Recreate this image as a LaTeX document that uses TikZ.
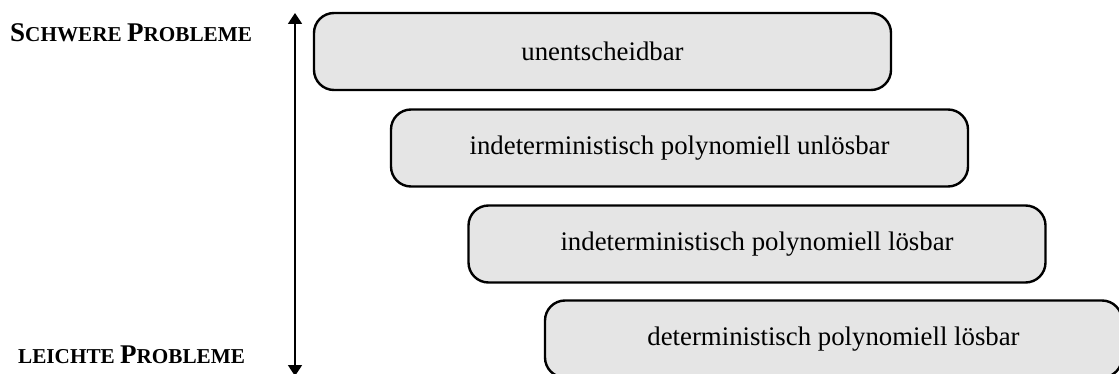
\documentclass[tikz,border=0pt]{standalone}
\usepackage{fontspec}
\setmainfont{Liberation Serif}
\usetikzlibrary{arrows.meta}

% faked small capitals: capital letters full size, the rest as smaller capitals
\newcommand{\capfull}[1]{\fontsize{27}{30}\selectfont #1}
\newcommand{\capsmall}[1]{\fontsize{21.2}{30}\selectfont #1}

\begin{document}
\begin{tikzpicture}[x=1pt,y=-1pt,
  levelbox/.style={draw=black, line width=2.4pt, fill=black!10, rounded corners=20pt,
    inner sep=0pt, minimum width=577pt, minimum height=77pt,
    font=\fontsize{26.8}{30}\selectfont},
  scalelabel/.style={font=\bfseries, inner sep=0pt, anchor=base west},
  scalearrow/.style={line width=1.8pt, {Triangle[width=14pt,length=11pt]}-{Triangle[width=14pt,length=11pt]}}
]
\useasboundingbox (0,0) rectangle (1119,374);

\node[levelbox] (undec) at (602.5,51.5) {unentscheidbar};
\node[levelbox] (npun)  at (679.5,148)  {indeterministisch polynomiell unlösbar};
\node[levelbox] (np)    at (757,244)    {indeterministisch polynomiell lösbar};
\node[levelbox] (p)     at (833.5,339)  {deterministisch polynomiell lösbar};

\node[scalelabel] (hard) at (10,42)
  {\capfull{S}\capsmall{CHWERE} \capfull{P}\capsmall{ROBLEME}};
\node[scalelabel] (easy) at (18,363)
  {\capsmall{LEICHTE} \capfull{P}\capsmall{ROBLEME}};

\coordinate (top) at (295,13);
\coordinate (bottom) at (295,376);
\draw[scalearrow] (bottom) -- (top);
\end{tikzpicture}
\end{document}
